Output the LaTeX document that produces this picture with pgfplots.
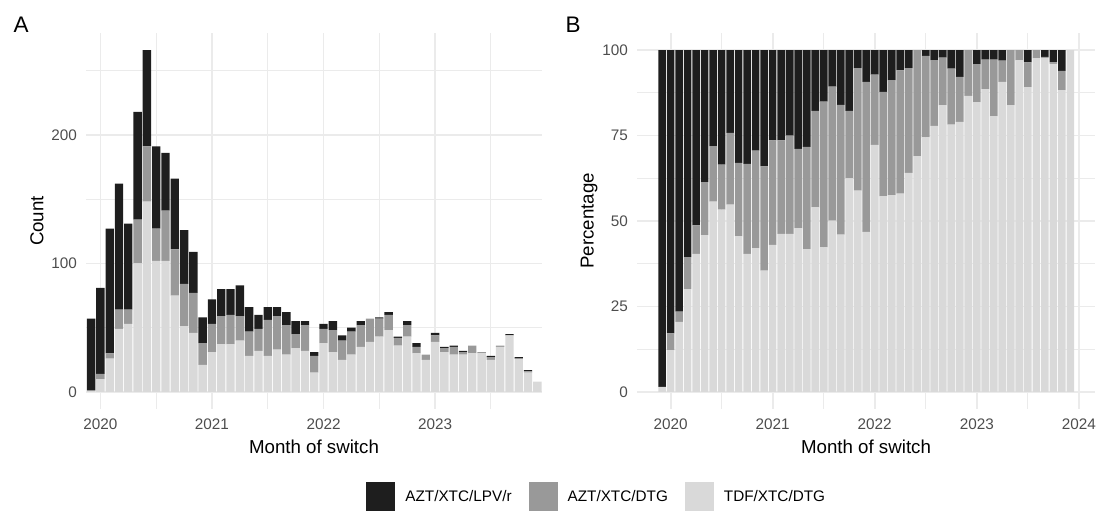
\documentclass[border=0pt]{standalone}
\usepackage{fontspec}
\setmainfont{Liberation Sans}
\usepackage{pgfplots}
\usepackage{pgfplotstable}
\pgfplotsset{compat=1.18}
\definecolor{cblack}{HTML}{1E1E1E}
\definecolor{cgray}{HTML}{999999}
\definecolor{clight}{HTML}{D9D9D9}
\definecolor{gridc}{HTML}{EBEBEB}
\definecolor{tickc}{HTML}{4D4D4D}

% Panel A: counts per month (index 0 = Dec 2019 ... 48 = Dec 2023)
\pgfplotstableread{
i light gray black
0 1 0 56
1 10 4 67
2 26 4 97
3 49 15 98
4 53 11 67
5 100 34 84
6 148 43 75
7 102 25 64
8 102 39 45
9 75 36 55
10 51 33 42
11 46 31 32
12 21 17 20
13 31 22 19
14 37 22 21
15 37 23 20
16 40 19 24
17 28 19 19
18 32 17 11
19 28 28 10
20 33 26 7
21 29 23 10
22 34 11 10
23 32 20 3
24 15 13 3
25 38 11 4
26 31 17 7
27 25 15 4
28 29 18 3
29 35 17 3
30 39 18 0
31 43 14 1
32 48 12 2
33 36 6 1
34 43 9 3
35 30 5 3
36 25 4 0
37 39 5 2
38 31 3 1
39 29 6 1
40 29 2 1
41 30 6 0
42 30 1 0
43 25 2 1
44 35 1 0
45 44 0 1
46 26 0 1
47 15 1 1
48 8 0 0
}\countdata

% Panel B: percentages per month
\pgfplotstableread{
i light gray black
0 1.5 0 98.5
1 12.2 4.9 82.9
2 20.5 3.0 76.5
3 30.1 9.3 60.6
4 40.4 8.3 51.3
5 45.9 15.5 38.6
6 55.7 16.2 28.1
7 53.3 13.2 33.5
8 54.8 21.0 24.2
9 45.5 21.5 33.0
10 40.4 26.3 33.3
11 42.1 28.5 29.4
12 35.5 30.5 34.0
13 43.0 30.6 26.4
14 46.2 27.4 26.4
15 46.2 28.8 25.0
16 47.9 23.2 28.9
17 41.8 29.9 28.3
18 54.0 28.2 17.8
19 42.3 42.6 15.1
20 50.1 39.2 10.7
21 46.0 38.0 16.0
22 62.5 19.7 17.8
23 58.9 35.8 5.3
24 46.8 43.9 9.3
25 72.3 20.5 7.2
26 57.2 30.6 12.2
27 57.6 33.6 8.8
28 58.0 36.1 5.9
29 64.1 30.6 5.3
30 69.0 31.0 0
31 74.5 23.8 1.7
32 77.8 19.3 2.9
33 83.9 13.9 2.2
34 78.2 16.4 5.4
35 79.0 13.2 7.8
36 86.6 13.4 0
37 84.8 11.1 4.1
38 88.6 8.6 2.8
39 80.7 16.5 2.8
40 90.7 6.2 3.1
41 83.9 16.1 0
42 97.0 3.0 0
43 89.2 7.2 3.6
44 97.6 2.4 0
45 97.7 0.3 2.0
46 96.0 0.4 3.6
47 88.3 5.6 6.1
48 100 0 0
}\pctdata

\pgfplotsset{
  panel/.style={
    scale only axis, height=376pt,
    axis line style={draw=none},
    tick style={draw=none},
    major tick length=0pt, minor tick length=0pt,
    grid=both,
    major grid style={draw=gridc, line width=1.8pt},
    minor grid style={draw=gridc, line width=0.9pt},
    ybar stacked, bar width=0.9,
    /pgf/number format/assume math mode=true,
    ticklabel style={font=\fontsize{15.3}{18}\selectfont, text=tickc},
    yticklabel style={inner sep=0pt, anchor=east, xshift=-9pt},
    xticklabel style={inner sep=0pt, anchor=north, yshift=-10pt},
    label style={font=\fontsize{18.7}{22}\selectfont},
    xlabel style={at={(axis description cs:0.5,-0.101)}, anchor=center},
    minor xtick={7,19,31,43},
    xlabel={Month of switch},
  }
}

\begin{document}
\begin{tikzpicture}
\path[use as bounding box] (0pt,0pt) rectangle (1099pt,-514pt);

\begin{axis}[panel,
  at={(86pt,-409pt)}, anchor=south west, width=456pt,
  xmin=-0.55, xmax=48.5, ymin=-13.3, ymax=279.3,
  xtick={1,13,25,37}, xticklabels={2020,2021,2022,2023},
  ytick={0,100,200}, minor ytick={50,150,250},
  ylabel={Count},
  ylabel style={at={(axis description cs:-0.1075,0.5)}, anchor=center},
  legend columns=3,
  reverse legend,
  legend image code/.code={\fill[#1,draw=none] (0pt,-14.5pt) rectangle (29pt,14.5pt);},
  legend style={at={(axis description cs:1.12,-0.234)}, anchor=center,
    draw=none, fill=none, font=\fontsize{15.3}{18}\selectfont,
    /tikz/every odd column/.append style={column sep=8pt},
    /tikz/every even column/.append style={column sep=15pt}},
]
\addplot[fill=clight, draw=none] table[x=i, y=light] {\countdata};
\addplot[fill=cgray, draw=none] table[x=i, y=gray] {\countdata};
\addplot[fill=cblack, draw=none] table[x=i, y=black] {\countdata};
\legend{TDF/XTC/DTG, AZT/XTC/DTG, AZT/XTC/LPV/r}
\end{axis}

\begin{axis}[panel,
  at={(637pt,-409pt)}, anchor=south west, width=458pt,
  xmin=-2.95, xmax=50.9, ymin=-5, ymax=105,
  xtick={1,13,25,37,49}, xticklabels={2020,2021,2022,2023,2024},
  ytick={0,25,50,75,100}, minor ytick={12.5,37.5,62.5,87.5},
  ylabel={Percentage},
  ylabel style={at={(axis description cs:-0.1048,0.5)}, anchor=center},
]
\addplot[fill=clight, draw=none] table[x=i, y=light] {\pctdata};
\addplot[fill=cgray, draw=none] table[x=i, y=gray] {\pctdata};
\addplot[fill=cblack, draw=none] table[x=i, y=black] {\pctdata};
\end{axis}

\node[anchor=base west, font=\fontsize{22.5}{26}\selectfont] at (10pt,-32pt) {A};
\node[anchor=base west, font=\fontsize{22.5}{26}\selectfont] at (562pt,-32pt) {B};
\end{tikzpicture}
\end{document}
